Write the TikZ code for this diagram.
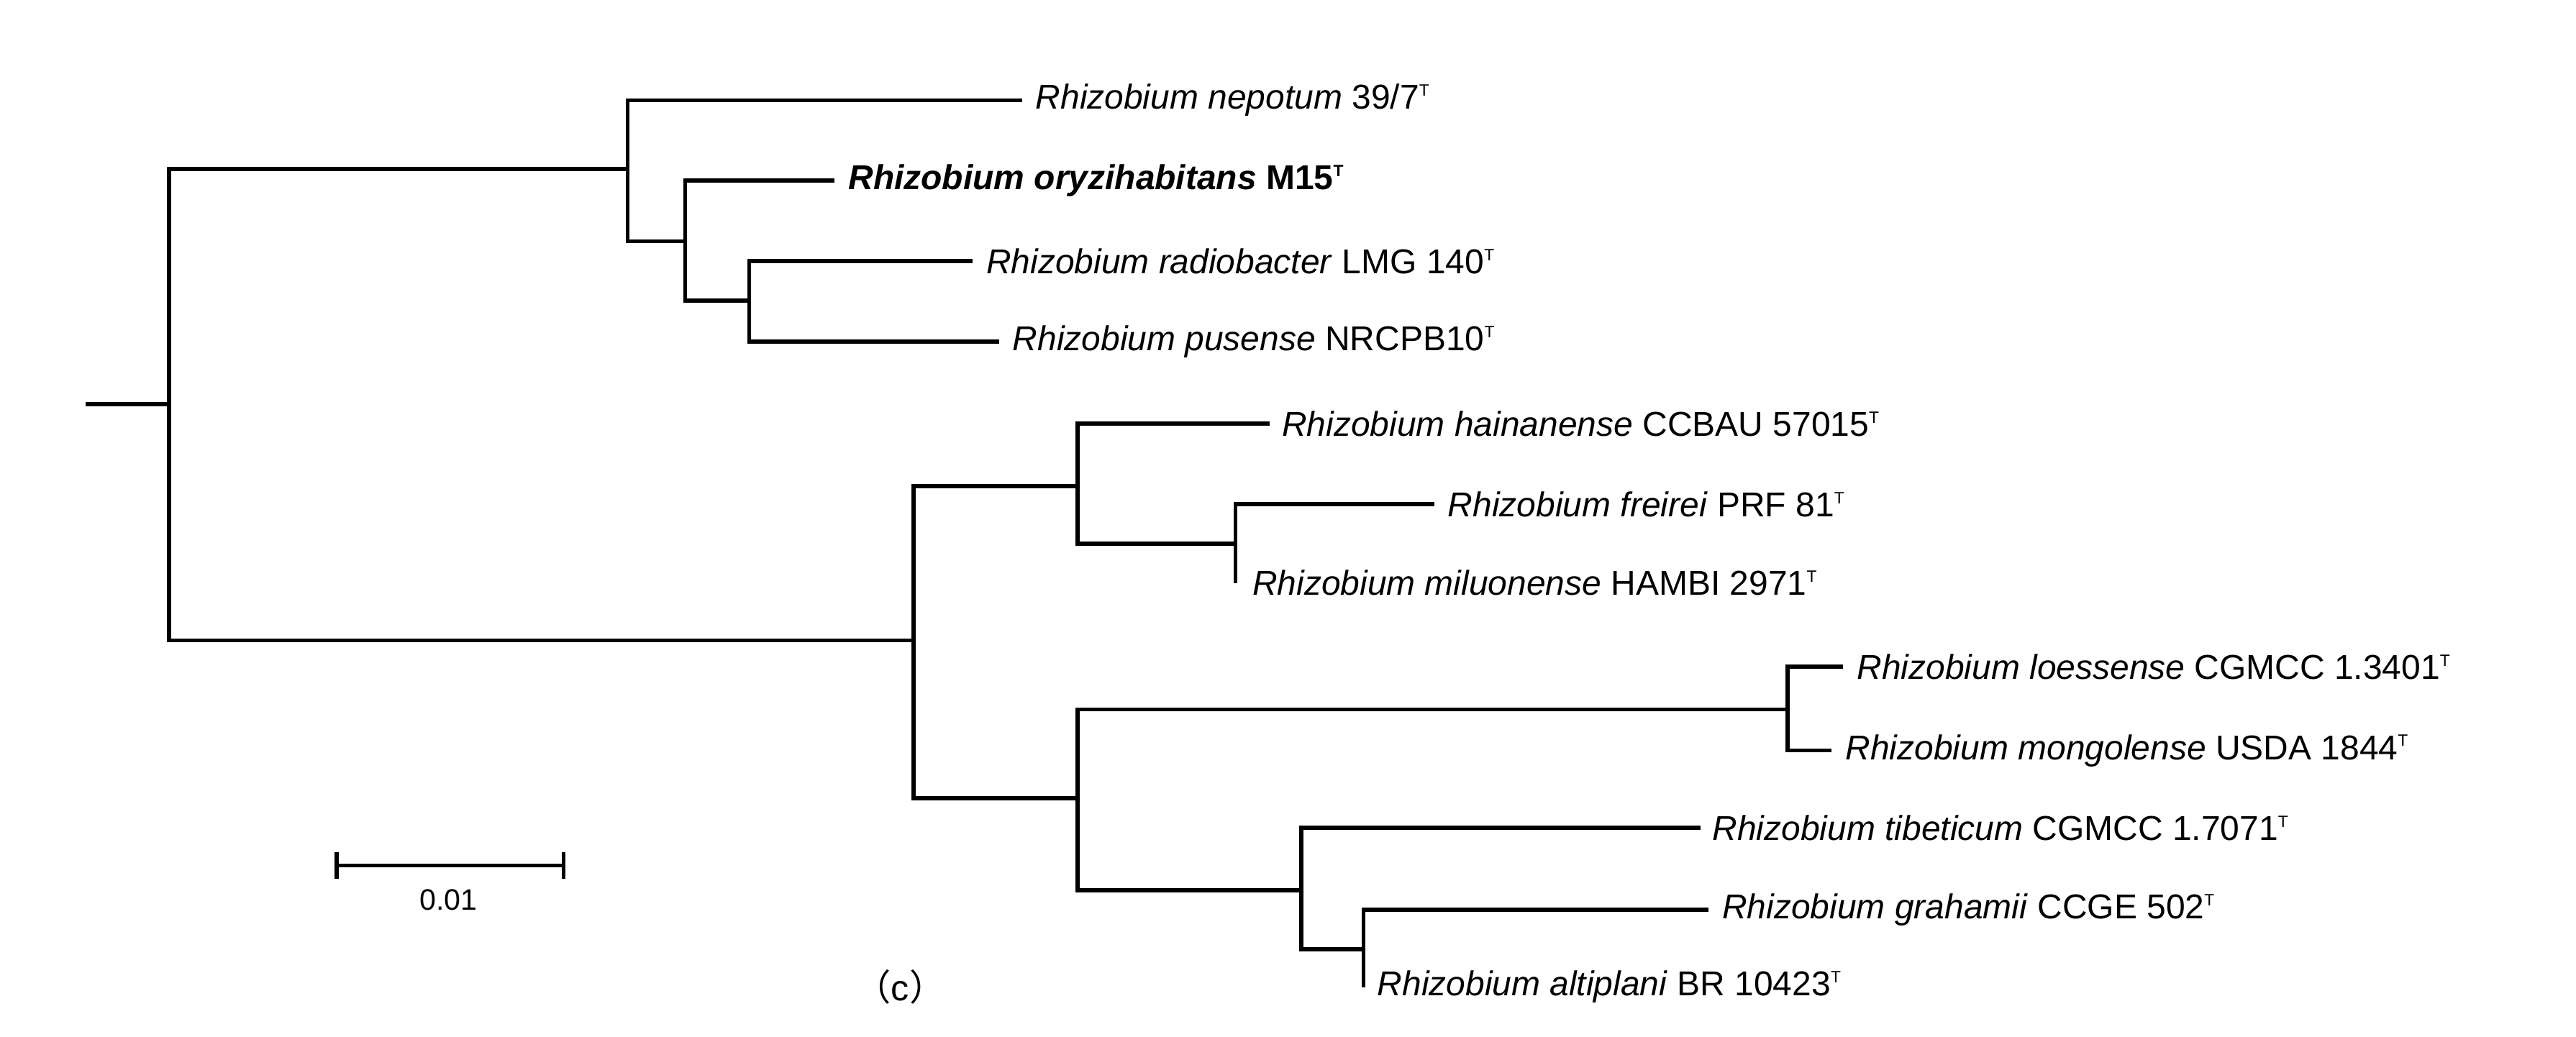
\documentclass[tikz,border=0pt]{standalone}
\usepackage{fontspec}
\setmainfont{Liberation Sans}
\newfontfamily\cjk{Noto Sans CJK SC}
\begin{document}
\begin{tikzpicture}[x=0.5pt,y=-0.5pt,br/.style={line width=1.2pt},
 lab/.style={anchor=west,inner sep=0pt,font=\fontsize{10.5}{12}\selectfont}]
\useasboundingbox (0,0) rectangle (1568,631);
\newcommand{\tp}{\textsuperscript{\tiny T}}
% leaves
\node[lab] (nep) at (630,61) {\textit{Rhizobium nepotum} 39/7\tp};
\node[lab] (ory) at (516,110) {\textbf{\textit{Rhizobium oryzihabitans} M15\tp}};
\node[lab] (rad) at (600,159) {\textit{Rhizobium radiobacter} LMG 140\tp};
\node[lab] (pus) at (616,208) {\textit{Rhizobium pusense} NRCPB10\tp};
\node[lab] (hai) at (780,258) {\textit{Rhizobium hainanense} CCBAU 57015\tp};
\node[lab] (fre) at (881,307) {\textit{Rhizobium freirei} PRF 81\tp};
\node[lab] (mil) at (762,355) {\textit{Rhizobium miluonense} HAMBI 2971\tp};
\node[lab] (loe) at (1130,406) {\textit{Rhizobium loessense} CGMCC 1.3401\tp};
\node[lab] (mon) at (1123,457) {\textit{Rhizobium mongolense} USDA 1844\tp};
\node[lab] (tib) at (1042,504) {\textit{Rhizobium tibeticum} CGMCC 1.7071\tp};
\node[lab] (gra) at (1048,554) {\textit{Rhizobium grahamii} CCGE 502\tp};
\node[lab] (alt) at (838,601) {\textit{Rhizobium altiplani} BR 10423\tp};
% internal nodes
\coordinate (r0) at (52,246);
\coordinate (r) at (103,246);
\coordinate (a) at (382,103);
\coordinate (b) at (417,147);
\coordinate (c) at (456,183);
\coordinate (d) at (556,390);
\coordinate (e) at (656,296);
\coordinate (f) at (752,331);
\coordinate (g) at (656,486);
\coordinate (h) at (1088,432);
\coordinate (i) at (792,542);
\coordinate (j) at (830,578);
\draw[br] (r0) -- (r);
\draw[br] (a) -| (r) |- (d);
\draw[br] (nep.west) ++(-8,0) -| (a) |- (b);
\draw[br] (ory.west) ++(-8,0) -| (b) |- (c);
\draw[br] (rad.west) ++(-8,0) -| (c) |- ([xshift=-4pt]pus.west);
\draw[br] (e) -| (d) |- (g);
\draw[br] (hai.west) ++(-7,0) -| (e) |- (f);
\draw[br] (fre.west) ++(-8,0) -| (f) |- ([xshift=-5pt]mil.west);
\draw[br] (h) -| (g) |- (i);
\draw[br] (loe.west) ++(-8,0) -| (h) |- ([xshift=-4pt]mon.west);
\draw[br] (tib.west) ++(-7,0) -| (i) |- (j);
\draw[br] (gra.west) ++(-8,0) -| (j) |- ([xshift=-4pt]alt.west);
% scale bar
\coordinate (s1) at (205,527);
\coordinate (s2) at (343,527);
\draw[br] (s1) -- (s2);
\draw[br] ([yshift=4pt]s1) -- ([yshift=-4pt]s1);
\draw[br] ([yshift=4pt]s2) -- ([yshift=-4pt]s2);
\node[inner sep=0pt,font=\fontsize{9}{10}\selectfont] (sl) at (273,548) {0.01};
\node[inner sep=0pt,font=\fontsize{11}{12}\selectfont] (cap) at (548,601) {{\cjk （}c{\cjk ）}};
\end{tikzpicture}
\end{document}
